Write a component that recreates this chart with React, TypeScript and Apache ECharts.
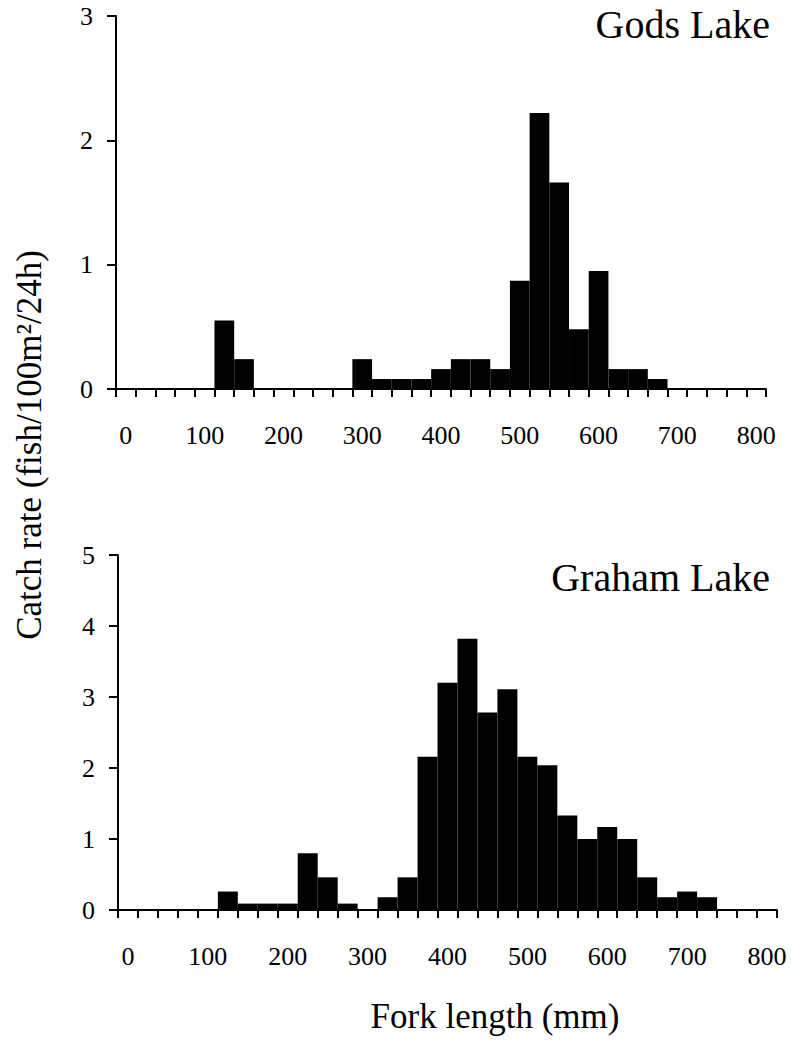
import React, { useEffect, useRef } from "react";
import * as echarts from "echarts";

const categories: string[] = [
  "0","25","50","75","100","125","150","175","200","225","250","275","300","325","350","375",
  "400","425","450","475","500","525","550","575","600","625","650","675","700","725","750","775","800",
];

const godsLake: number[] = [
  0, 0, 0, 0, 0, 0.55, 0.24, 0, 0, 0, 0, 0, 0.24, 0.08, 0.08, 0.08,
  0.16, 0.24, 0.24, 0.16, 0.87, 2.22, 1.66, 0.48, 0.95, 0.16, 0.16, 0.08, 0, 0, 0, 0, 0,
];

const grahamLake: number[] = [
  0, 0, 0, 0, 0, 0.26, 0.09, 0.09, 0.09, 0.8, 0.46, 0.09, 0, 0.18, 0.46, 2.16,
  3.2, 3.82, 2.78, 3.11, 2.16, 2.04, 1.33, 1.0, 1.17, 1.0, 0.46, 0.18, 0.26, 0.18, 0, 0, 0,
];

const topTitle = "Gods Lake";
const bottomTitle = "Graham Lake";
const yTitle = "Catch rate (fish/100m²/24h)";
const xTitle = "Fork length (mm)";

const FONT = "Liberation Serif";

export default function App() {
  const ref = useRef<HTMLDivElement>(null);
  useEffect(() => {
    if (!ref.current) return;
    const chart = echarts.init(ref.current, null, { renderer: "svg" });
    const axisLine = { show: true, onZero: false, lineStyle: { color: "#000", width: 2 } };
    const xAxisBase = (gridIndex: number) => ({
      type: "category" as const,
      gridIndex,
      data: categories,
      boundaryGap: true,
      axisLine,
      axisTick: { show: true, interval: 0, length: 8, inside: false, lineStyle: { color: "#000", width: 2 } },
      axisLabel: {
        interval: 3,
        margin: 33,
        color: "#000",
        fontFamily: FONT,
        fontSize: 26,
      },
      splitLine: { show: false },
    });
    const yAxisBase = (gridIndex: number, max: number) => ({
      type: "value" as const,
      gridIndex,
      min: 0,
      max,
      interval: 1,
      axisLine: { show: true, lineStyle: { color: "#000", width: 2 } },
      axisTick: { show: true, length: 9, inside: false, lineStyle: { color: "#000", width: 2 } },
      axisLabel: { margin: 23, color: "#000", fontFamily: FONT, fontSize: 26 },
      splitLine: { show: false },
    });
    chart.setOption({
      animation: false,
      backgroundColor: "#fff",
      grid: [
        { left: 116, top: 16, width: 650, height: 373 },
        { left: 118, top: 555, width: 659, height: 355 },
      ],
      xAxis: [xAxisBase(0), xAxisBase(1)],
      yAxis: [yAxisBase(0, 3), yAxisBase(1, 5)],
      series: [
        {
          type: "bar",
          xAxisIndex: 0,
          yAxisIndex: 0,
          data: godsLake,
          barCategoryGap: "0%",
          itemStyle: { color: "#000" },
        },
        {
          type: "bar",
          xAxisIndex: 1,
          yAxisIndex: 1,
          data: grahamLake,
          barCategoryGap: "0%",
          itemStyle: { color: "#000" },
        },
      ],
      graphic: [
        {
          type: "text",
          x: 770,
          y: 24,
          style: {
            text: topTitle,
            fontFamily: FONT,
            fontSize: 40,
            fill: "#000",
            align: "right",
            verticalAlign: "middle",
          },
        },
        {
          type: "text",
          x: 770,
          y: 577,
          style: {
            text: bottomTitle,
            fontFamily: FONT,
            fontSize: 40,
            fill: "#000",
            align: "right",
            verticalAlign: "middle",
          },
        },
        {
          type: "text",
          x: 29,
          y: 445,
          rotation: Math.PI / 2,
          style: {
            text: yTitle,
            fontFamily: FONT,
            fontSize: 35,
            fill: "#000",
            align: "center",
            verticalAlign: "middle",
          },
        },
        {
          type: "text",
          x: 495,
          y: 1016,
          style: {
            text: xTitle,
            fontFamily: FONT,
            fontSize: 35,
            fill: "#000",
            align: "center",
            verticalAlign: "middle",
          },
        },
      ],
    });
    return () => chart.dispose();
  }, []);
  return (
    <div
      ref={ref}
      style={{ position: "absolute", left: 0, top: 0, width: 791, height: 1044, background: "#fff" }}
    />
  );
}
